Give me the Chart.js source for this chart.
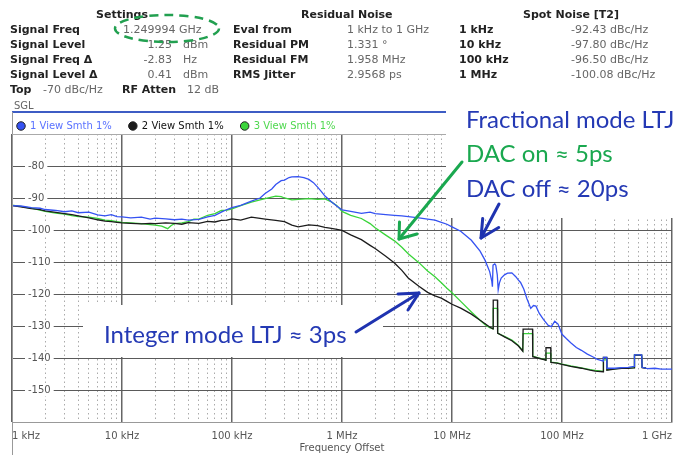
<!DOCTYPE html>
<html>
<head>
<meta charset="utf-8">
<script src="https://cdn.jsdelivr.net/npm/chart.js@4.4.1/dist/chart.umd.min.js"></script>
<style>
  body { margin: 0; width: 676px; height: 455px; overflow: hidden; background: #fff; position: relative; }
  #pn { position: absolute; left: 0; top: 112px; }
  #overlay { position: absolute; left: 0; top: 0; }
</style>
</head>
<body>
<canvas id="pn" width="680" height="343"></canvas>

<svg id="overlay" width="676" height="455">
  <!-- frame of the trace window -->
  <line x1="12" y1="112" x2="676" y2="112" stroke="#3d5cc4" stroke-width="2"/>
  <line x1="12.5" y1="112" x2="12.5" y2="455" stroke="#999" stroke-width="1"/>
  <line x1="12" y1="134.5" x2="676" y2="134.5" stroke="#aaa" stroke-width="1"/>

  <!-- header table -->
  <g font-family="DejaVu Sans, sans-serif" font-size="11">
    <g font-weight="bold" fill="#222">
      <text x="96" y="18">Settings</text>
      <text x="301" y="18">Residual Noise</text>
      <text x="523" y="18">Spot Noise [T2]</text>
      <text x="10" y="33">Signal Freq</text>
      <text x="10" y="48">Signal Level</text>
      <text x="10" y="63">Signal Freq Δ</text>
      <text x="10" y="78">Signal Level Δ</text>
      <text x="10" y="93">Top</text>
      <text x="122" y="93">RF Atten</text>
      <text x="233" y="33">Eval from</text>
      <text x="233" y="48">Residual PM</text>
      <text x="233" y="63">Residual FM</text>
      <text x="233" y="78">RMS Jitter</text>
      <text x="459" y="33">1 kHz</text>
      <text x="459" y="48">10 kHz</text>
      <text x="459" y="63">100 kHz</text>
      <text x="459" y="78">1 MHz</text>
    </g>
    <g fill="#666">
      <text x="123" y="33">1.249994 GHz</text>
      <text x="172" y="48" text-anchor="end">1.25</text>
      <text x="183" y="48">dBm</text>
      <text x="172" y="63" text-anchor="end">-2.83</text>
      <text x="183" y="63">Hz</text>
      <text x="172" y="78" text-anchor="end">0.41</text>
      <text x="183" y="78">dBm</text>
      <text x="43" y="93">-70 dBc/Hz</text>
      <text x="187" y="93">12 dB</text>
      <text x="347" y="33">1 kHz to 1 GHz</text>
      <text x="347" y="48">1.331 °</text>
      <text x="347" y="63">1.958 MHz</text>
      <text x="347" y="78">2.9568 ps</text>
      <text x="571" y="33">-92.43 dBc/Hz</text>
      <text x="571" y="48">-97.80 dBc/Hz</text>
      <text x="571" y="63">-96.50 dBc/Hz</text>
      <text x="571" y="78">-100.08 dBc/Hz</text>
      <text x="14" y="109" font-size="10">SGL</text>
    </g>
  </g>
  <ellipse cx="167" cy="28.5" rx="52" ry="13.5" fill="none" stroke="#22a050" stroke-width="2.5" stroke-dasharray="9 6"/>

  <!-- annotation boxes -->
  <rect x="446" y="106" width="235" height="112" fill="#fff"/>
  <rect x="83" y="305" width="300" height="52" fill="#fff"/>
  <g font-family="Lato, sans-serif" font-size="24">
    <text x="466" y="128" fill="#2439b4">Fractional mode LTJ</text>
    <text x="466" y="162" fill="#1aa84f">DAC on ≈ 5ps</text>
    <text x="466" y="197" fill="#2439b4">DAC off ≈ 20ps</text>
    <text x="104" y="343" fill="#2439b4">Integer mode LTJ ≈ 3ps</text>
  </g>
  <g fill="none" stroke-width="3" stroke-linecap="round" stroke-linejoin="round">
    <g stroke="#1aa84f">
      <line x1="462" y1="162" x2="399" y2="239"/>
      <polyline points="399.5,222 399,239 417,234"/>
    </g>
    <g stroke="#1f33b0">
      <line x1="499" y1="204" x2="481" y2="238"/>
      <polyline points="482.7,218.5 481,238 498.7,227.5"/>
      <line x1="356" y1="332" x2="419" y2="293"/>
      <polyline points="398,294 419,293 408,310"/>
    </g>
  </g>
</svg>

<script>
  // x axis: decades and their labels
  const decades = [1e3, 1e4, 1e5, 1e6, 1e7, 1e8, 1e9];
  const decadeLabels = ['1 kHz', '10 kHz', '100 kHz', '1 MHz', '10 MHz', '100 MHz', '1 GHz'];
  const traceNames = ['1 View Smth 1%', '2 View Smth 1%', '3 View Smth 1%'];

  // trace 1 (blue)
  const blueFreq = [
    1e3, 1.2e3, 1.5e3, 1.8e3, 2e3, 2.5e3, 3e3, 3.5e3, 4e3, 5e3,
    6e3, 7e3, 8e3, 9e3, 1e4, 1.2e4, 1.5e4, 1.8e4, 2e4, 2.5e4,
    3e4, 3.5e4, 4e4, 5e4, 6e4, 7e4, 8e4, 9e4, 1e5, 1.2e5,
    1.5e5, 1.8e5, 2e5, 2.3e5, 2.5e5, 2.8e5, 3e5, 3.3e5, 3.5e5, 4e5,
    4.5e5, 5e5, 5.5e5, 6e5, 6.5e5, 7e5, 8e5, 9e5, 1e6, 1.2e6,
    1.5e6, 1.8e6, 2e6, 2.5e6, 3e6, 3.5e6, 4e6, 5e6, 6e6, 7e6,
    8e6, 9e6, 1e7, 1.2e7, 1.5e7, 1.8e7, 2e7, 2.2e7, 2.3e7, 2.33e7,
    2.36e7, 2.45e7, 2.5e7, 2.58e7, 2.63e7, 2.7e7, 2.8e7, 3e7, 3.2e7, 3.5e7,
    3.8e7, 4e7, 4.2e7, 4.5e7, 4.8e7, 5.2e7, 5.5e7, 5.8e7, 6.2e7, 6.8e7,
    7.5e7, 8e7, 8.6e7, 9.2e7, 1e8, 1.1e8, 1.2e8, 1.35e8, 1.5e8, 1.7e8,
    1.9e8, 2.1e8, 2.3e8, 2.37e8, 2.38e8, 2.55e8, 2.56e8, 3e8, 3.5e8, 4e8,
    4.52e8, 4.56e8, 5.3e8, 5.35e8, 6e8, 7e8, 8e8, 1e9
  ];
  const blueVals = [
    -92.4, -92.5, -93.0, -93.2, -93.6, -93.9, -94.3, -94.0, -94.6, -94.4,
    -95.3, -95.6, -95.2, -95.8, -95.9, -96.2, -96.0, -96.6, -96.3, -96.5,
    -96.8, -96.6, -96.9, -96.7, -95.9, -95.4, -94.4, -93.6, -93.0, -92.3,
    -91.0, -90.0, -88.6, -87.2, -85.8, -84.6, -84.4, -83.6, -83.4, -83.3,
    -83.6, -84.2, -85.2, -86.6, -88.0, -89.4, -91.2, -92.6, -93.7, -94.2,
    -94.8, -94.4, -94.9, -95.2, -95.4, -95.6, -95.8, -96.2, -96.6, -96.9,
    -97.6, -98.2, -99.0, -100.4, -103.2, -106.6, -109.5, -113.0, -116.0, -117.7,
    -111.0, -110.6, -111.0, -114.0, -118.7, -116.5, -115.0, -114.0, -113.5, -113.4,
    -114.6, -115.6, -116.4, -118.5, -121.5, -124.5, -123.6, -123.8, -126.0, -128.0,
    -129.8, -130.2, -128.5, -129.4, -132.6, -134.0, -135.2, -136.7, -137.6, -138.8,
    -139.6, -140.4, -140.8, -141.0, -139.8, -139.8, -143.2, -143.2, -143.0, -142.9,
    -142.6, -139.0, -139.0, -142.9, -143.3, -143.2, -143.5, -143.5
  ];

  // trace 2 (black)
  const blackFreq = [
    1e3, 1.2e3, 1.5e3, 1.8e3, 2e3, 2.5e3, 3e3, 3.5e3, 4e3, 5e3,
    6e3, 7e3, 8e3, 9e3, 1e4, 1.2e4, 1.5e4, 1.8e4, 2e4, 2.5e4,
    3e4, 3.5e4, 4e4, 5e4, 6e4, 7e4, 8e4, 9e4, 1e5, 1.2e5,
    1.5e5, 1.8e5, 2e5, 2.5e5, 3e5, 3.5e5, 4e5, 5e5, 6e5, 7e5,
    8e5, 9e5, 1e6, 1.2e6, 1.5e6, 1.8e6, 2e6, 2.5e6, 3e6, 3.5e6,
    4e6, 5e6, 6e6, 7e6, 8e6, 9e6, 1e7, 1.2e7, 1.5e7, 1.8e7,
    2e7, 2.2e7, 2.36e7, 2.37e7, 2.59e7, 2.6e7, 3e7, 3.5e7, 4e7, 4.4e7,
    4.43e7, 5.4e7, 5.42e7, 6e7, 7e7, 7.13e7, 7.15e7, 7.9e7, 7.93e7, 9e7,
    1e8, 1.2e8, 1.5e8, 1.8e8, 2e8, 2.37e8, 2.38e8, 2.55e8, 2.56e8, 3e8,
    3.5e8, 4e8, 4.52e8, 4.56e8, 5.3e8, 5.35e8, 5.8e8
  ];
  const blackVals = [
    -92.4, -92.8, -93.3, -93.6, -94.0, -94.5, -94.9, -95.2, -95.6, -96.2,
    -96.8, -97.2, -97.4, -97.6, -97.8, -97.9, -98.1, -97.9, -98.0, -97.8,
    -97.9, -98.2, -97.7, -97.9, -97.3, -97.5, -97.0, -96.9, -96.5, -96.9,
    -96.0, -96.4, -96.6, -97.0, -97.4, -98.5, -99.0, -98.4, -98.6, -99.2,
    -99.5, -99.8, -100.1, -101.5, -103.0, -104.8, -105.8, -108.2, -110.3, -112.6,
    -115.0, -117.6, -119.5, -120.6, -121.3, -122.3, -123.2, -124.4, -126.3, -128.2,
    -129.3, -130.3, -130.9, -121.9, -121.9, -132.2, -133.4, -134.6, -136.2, -137.9,
    -131.0, -131.0, -139.6, -140.0, -140.6, -140.7, -136.8, -136.8, -141.4, -141.6,
    -142.0, -142.6, -143.2, -143.8, -144.1, -144.3, -139.8, -139.8, -143.8, -143.5,
    -143.2, -143.2, -143.1, -139.1, -139.1, -143.0, -143.2
  ];

  // trace 3 (green)
  const greenFreq = [
    1e3, 1.2e3, 1.5e3, 1.8e3, 2e3, 2.5e3, 3e3, 3.5e3, 4e3, 5e3,
    6e3, 7e3, 8e3, 9e3, 1e4, 1.2e4, 1.5e4, 1.8e4, 2e4, 2.3e4,
    2.6e4, 2.8e4, 3e4, 3.5e4, 4e4, 4.5e4, 5e4, 6e4, 7e4, 8e4,
    9e4, 1e5, 1.2e5, 1.5e5, 1.8e5, 2e5, 2.5e5, 2.8e5, 3e5, 3.5e5,
    4e5, 5e5, 6e5, 7e5, 8e5, 9e5, 1e6, 1.2e6, 1.5e6, 1.8e6,
    2e6, 2.5e6, 3e6, 3.5e6, 4e6, 5e6, 6e6, 7e6, 8e6, 9e6,
    1e7, 1.2e7, 1.5e7, 1.8e7, 2e7, 2.2e7, 2.36e7, 2.37e7, 2.59e7, 2.6e7,
    3e7, 3.5e7, 4e7, 4.4e7, 4.43e7, 5.4e7, 5.42e7, 6e7, 7e7, 7.13e7,
    7.15e7, 7.9e7, 7.93e7, 9e7, 1e8, 1.2e8, 1.5e8, 1.8e8, 2e8, 2.37e8,
    2.38e8, 2.55e8, 2.56e8, 3e8, 3.5e8, 4e8, 4.52e8, 4.56e8, 5.3e8, 5.35e8,
    5.8e8
  ];
  const greenVals = [
    -92.2, -92.6, -93.2, -93.8, -94.2, -94.7, -95.0, -95.5, -95.8, -96.0,
    -96.4, -96.9, -97.1, -97.4, -97.6, -97.8, -98.0, -98.3, -98.5, -98.8,
    -99.6, -98.6, -98.0, -97.8, -97.4, -96.6, -96.6, -95.4, -94.9, -93.9,
    -93.8, -93.4, -92.4, -91.3, -90.6, -90.2, -89.4, -89.6, -90.0, -90.6,
    -90.4, -90.2, -90.4, -90.3, -91.2, -92.4, -94.2, -95.4, -96.4, -98.0,
    -99.3, -101.6, -103.4, -105.4, -107.4, -110.2, -112.8, -114.6, -116.5, -118.2,
    -119.6, -122.3, -125.6, -128.2, -129.6, -130.5, -130.9, -124.5, -124.5, -132.3,
    -133.2, -134.4, -136.0, -137.7, -132.4, -132.4, -139.4, -139.9, -140.5, -140.6,
    -138.5, -138.5, -141.3, -141.5, -141.9, -142.5, -143.1, -143.6, -143.9, -144.2,
    -140.6, -140.6, -143.7, -143.4, -143.1, -143.1, -143.0, -139.1, -139.1, -142.9,
    -143.1
  ];

  const traceColors = ['#3552f2', '#1c1c1c', '#3ad43a'];
  const legendTextColors = ['#5a72ff', '#111', '#4fd84f'];

  function toPoints(freqs, vals) {
    return freqs.map((f, i) => ({ x: f, y: vals[i] }));
  }

  function isDecade(v) {
    return decades.some(d => Math.abs(v / d - 1) < 1e-6);
  }

  // every 1..9 x decade gets a grid line
  const gridTicks = [];
  decades.forEach((d, i) => {
    if (i === decades.length - 1) { gridTicks.push(d); return; }
    for (let m = 1; m <= 9; m++) gridTicks.push(d * m);
  });

  // squeeze the legend into the thin band above the plot
  const legendBand = {
    id: 'legendBand',
    beforeInit(chart) {
      const fit = chart.legend.fit;
      chart.legend.fit = function () { fit.call(this); this.height = 22; };
    },
    afterLayout(chart) {
      chart.legend.top = -8;
      chart.legend.left = 0;
    }
  };

  Chart.defaults.font.family = '"DejaVu Sans", Verdana, sans-serif';
  Chart.defaults.font.size = 10;

  new Chart(document.getElementById('pn'), {
    type: 'line',
    data: {
      datasets: [
        { label: traceNames[0], data: toPoints(blueFreq, blueVals), borderColor: traceColors[0], backgroundColor: traceColors[0] },
        { label: traceNames[1], data: toPoints(blackFreq, blackVals), borderColor: traceColors[1], backgroundColor: traceColors[1] },
        { label: traceNames[2], data: toPoints(greenFreq, greenVals), borderColor: traceColors[2], backgroundColor: traceColors[2] }
      ]
    },
    options: {
      responsive: false,
      animation: false,
      elements: {
        line: { borderWidth: 1.3, tension: 0 },
        point: { radius: 0 }
      },
      layout: { padding: { left: 12, right: 2, top: 0, bottom: 0 } },
      plugins: {
        tooltip: { enabled: false },
        legend: {
          position: 'top',
          align: 'start',
          labels: {
            usePointStyle: true,
            boxWidth: 8,
            boxHeight: 6,
            padding: 17,
            font: { size: 10 },
            generateLabels(chart) {
              return chart.data.datasets.map((ds, i) => ({
                text: ds.label,
                fillStyle: ds.borderColor,
                strokeStyle: '#222',
                lineWidth: 1,
                pointStyle: 'circle',
                fontColor: legendTextColors[i],
                datasetIndex: i
              }));
            }
          }
        }
      },
      scales: {
        x: {
          type: 'logarithmic',
          min: 1e3,
          max: 1e9,
          afterBuildTicks(axis) {
            axis.ticks = gridTicks.map(v => ({ value: v }));
          },
          afterFit(axis) { axis.height = 33; },
          ticks: {
            autoSkip: false,
            maxRotation: 0,
            align: 'inner',
            padding: 8,
            color: '#555',
            callback(value) {
              const i = decades.findIndex(d => Math.abs(value / d - 1) < 1e-6);
              return i >= 0 ? decadeLabels[i] : '';
            }
          },
          grid: {
            drawTicks: false,
            color: ctx => (ctx.tick && isDecade(ctx.tick.value)) ? '#666' : '#aaa',
            lineWidth: ctx => (ctx.tick && isDecade(ctx.tick.value)) ? 1.5 : 1
          },
          border: {
            display: true,
            color: '#999',
            dash: ctx => (ctx.tick && !isDecade(ctx.tick.value)) ? [1.5, 3] : []
          },
          title: {
            display: true,
            text: 'Frequency Offset',
            color: '#555',
            font: { size: 10 },
            padding: { top: 0, bottom: 1 }
          }
        },
        y: {
          min: -160,
          max: -70,
          afterFit(axis) { axis.width = 0; },
          ticks: {
            stepSize: 10,
            mirror: true,
            padding: 16,
            color: '#555',
            showLabelBackdrop: ctx => ctx.tick && ctx.tick.value > -160 && ctx.tick.value < -70,
            backdropColor: '#fff',
            backdropPadding: { left: 3, right: 3, top: 0, bottom: 0 },
            callback: v => (v === -70 || v === -160) ? '' : v
          },
          grid: { drawTicks: false, color: '#5a5a5a', lineWidth: 1 },
          border: { display: false }
        }
      }
    },
    plugins: [legendBand]
  });
</script>
</body>
</html>
